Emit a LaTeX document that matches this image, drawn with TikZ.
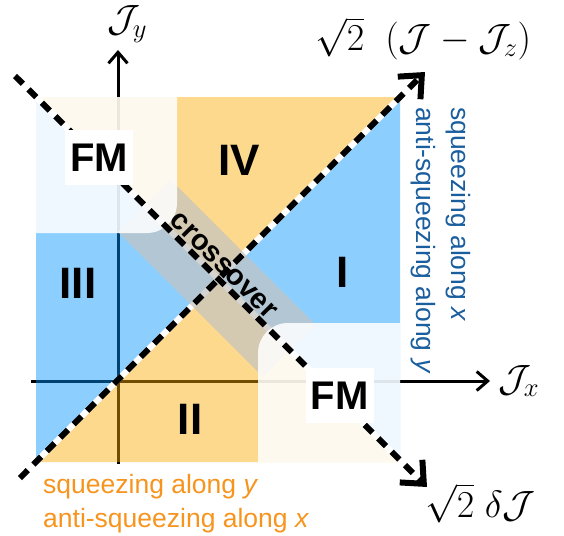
\documentclass[tikz,border=0pt]{standalone}
\usepackage{fix-cm}
\usepackage{fontspec}
\setmainfont{Liberation Sans}
\usetikzlibrary{arrows.meta}
\definecolor{bluebase}{RGB}{0,149,255}
\definecolor{orangebase}{RGB}{249,171,2}
\definecolor{bandgray}{RGB}{195,195,193}
\definecolor{bluetext}{RGB}{27,94,158}
\definecolor{orangetext}{RGB}{247,148,29}
\newcommand{\mathsz}{\fontsize{38}{44}\selectfont}
\newcommand{\labsz}{\fontsize{26.5}{32}\selectfont}
\begin{document}
\begin{tikzpicture}[x=1pt,y=-1pt,
  axis/.style={line width=3pt,-{Straight Barb[length=11pt,width=19pt]}},
  bluereg/.style={fill=bluebase,opacity=.45},
  orangereg/.style={fill=orangebase,opacity=.45},
  whiteline/.style={draw=white,line width=6pt},
  dashline/.style={draw=black,line width=6pt,dash pattern=on 11pt off 8pt,-{Straight Barb[length=18pt,width=32pt]}},
  band/.style={fill=bandgray,opacity=.7},
  fmregion/.style={fill=white,opacity=.87},
  fmbox/.style={fill=white,minimum width=68pt,minimum height=55pt,inner sep=0pt,font=\fontsize{40}{40}\selectfont\bfseries},
  numeral/.style={inner sep=0pt,font=\fontsize{44}{44}\selectfont\bfseries},
  mathlab/.style={anchor=base west,inner sep=0pt,font=\mathsz},
  bluelab/.style={rotate=-90,anchor=mid west,inner sep=0pt,text=bluetext,font=\labsz},
  orangelab/.style={anchor=base west,inner sep=0pt,text=orangetext,font=\labsz}]
\useasboundingbox (0,0) rectangle (564,535);
% square corners and centre
\coordinate (TL) at (36,97);
\coordinate (TR) at (400,97);
\coordinate (BL) at (36,462);
\coordinate (BR) at (400,462);
\coordinate (C) at (218,279.5);
% axes
\coordinate (ybot) at (118,464);
\coordinate (ytop) at (118,50);
\coordinate (xl) at (31,381);
\coordinate (xr) at (490,381);
\draw[axis] (ybot) -- (ytop);
\draw[axis] (xl) -- (xr);
% regions
\fill[bluereg] (TL) -- (C) -- (BL) -- cycle;
\fill[orangereg] (TL) -- (C) -- (TR) -- cycle;
\fill[bluereg] (TR) -- (C) -- (BR) -- cycle;
\fill[orangereg] (BL) -- (C) -- (BR) -- cycle;
% diagonal lines (white underlay)
\coordinate (d1s) at (20,478);
\coordinate (d1e) at (425,72);
\coordinate (d2s) at (15,76);
\coordinate (d2e) at (427,487);
\draw[whiteline] (d1s) -- (d1e);
\draw[whiteline] (d2s) -- (d2e);
% crossover band
\fill[band] (170.4,179.6) -- (315.4,324.6) -- (263.1,376.9) -- (118.1,231.9) -- cycle;
% FM regions
\fill[fmregion] (TL) -- (177,97) -- (177,203) .. controls (177,219.6) and (163.6,233) .. (147,233) -- (36,233) -- cycle;
\fill[fmregion] (BR) -- (258,462) -- (258,353) .. controls (258,336.4) and (271.4,323) .. (288,323) -- (400,323) -- cycle;
% dashed lines
\draw[dashline] (d1s) -- (d1e);
\draw[dashline] (d2s) -- (d2e);
% texts
\node[fmbox] (fm1) at (99,157.5) {FM};
\node[fmbox] (fm2) at (339.5,395.5) {FM};
\node[numeral] (r4) at (239,160) {IV};
\node[numeral] (r3) at (78,283) {III};
\node[numeral] (r2) at (190,419) {II};
\node[numeral] (r1) at (343,272) {I};
\node[rotate=-45,anchor=base,inner sep=0pt,font=\fontsize{29}{29}\selectfont\bfseries] (co) at (218,271) {crossover};
\node[mathlab] (ly) at (107,32) {$\mathcal{J}_y$};
\node[mathlab] (lx) at (498,391) {$\mathcal{J}_x$};
\node[mathlab] (ld1) at (315,51) {$\sqrt{2}\ \ (\mathcal{J}-\mathcal{J}_z)$};
\node[mathlab] (ld2) at (425,517) {$\sqrt{2}\ \delta\mathcal{J}$};
\node[bluelab] (b1) at (454,107) {squeezing along \textit{x}};
\node[bluelab] (b2) at (419,107) {anti-squeezing along \textit{y}};
\node[orangelab] (o1) at (43,493) {squeezing along \textit{y}};
\node[orangelab] (o2) at (43,527) {anti-squeezing along \textit{x}};
\end{tikzpicture}
\end{document}
